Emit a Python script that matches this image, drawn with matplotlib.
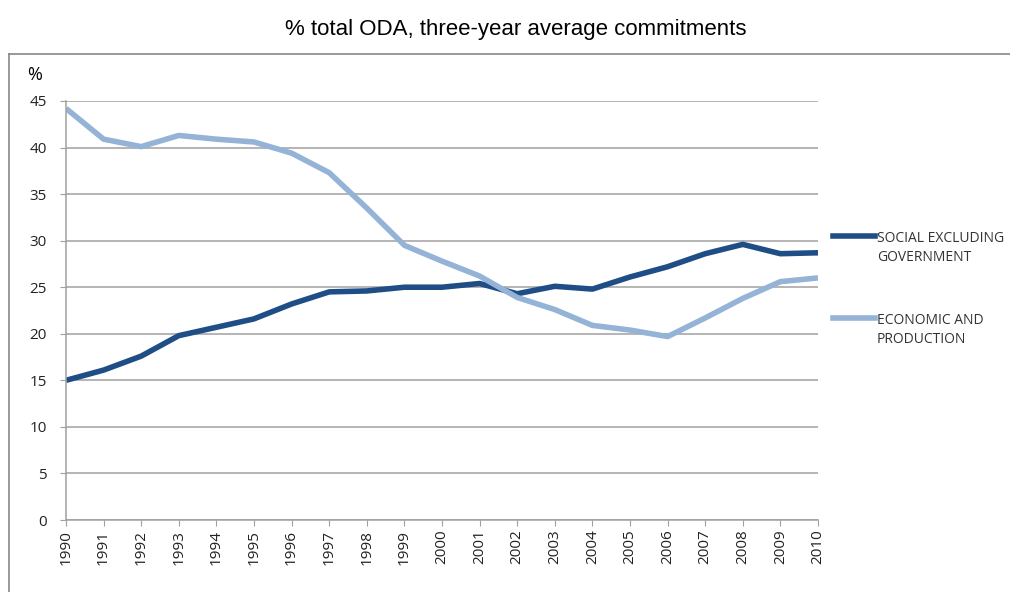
import matplotlib.pyplot as plt
from matplotlib.lines import Line2D

years = list(range(1990, 2011))
social = [15.0, 16.1, 17.6, 19.8, 20.7, 21.6, 23.2, 24.5, 24.6, 25.0, 25.0,
          25.4, 24.3, 25.1, 24.8, 26.1, 27.2, 28.6, 29.6, 28.6, 28.7]
economic = [44.2, 40.9, 40.1, 41.3, 40.9, 40.6, 39.4, 37.3, 33.5, 29.5, 27.8,
            26.2, 23.9, 22.6, 20.9, 20.4, 19.7, 21.7, 23.8, 25.6, 26.0]
yticks = list(range(0, 50, 5))
labels = ["SOCIAL EXCLUDING\nGOVERNMENT", "ECONOMIC AND\nPRODUCTION"]

dark = "#1f4e86"
light = "#95b3d7"

W, H = 1010, 592
fig = plt.figure(figsize=(W / 100, H / 100), dpi=100)
ax = fig.add_axes([66 / W, 1 - 520 / H, (818 - 66) / W, (520 - 101) / H])

ax.plot(years, social, color=dark, lw=4.0, solid_capstyle="butt")
ax.plot(years, economic, color=light, lw=4.0, solid_capstyle="butt")

ax.set_xlim(1990, 2010)
ax.set_ylim(0, 45)
ax.set_xticks(years)
ax.set_xticklabels([str(y) for y in years], rotation=90, fontsize=11,
                   family="Open Sans", color="#222222")
ax.set_yticks(yticks)
ax.set_yticklabels([str(v) for v in yticks], fontsize=11,
                   family="Open Sans", color="#222222")
ax.grid(axis="y", color="#a0a0a0", lw=1.1)
ax.set_axisbelow(True)
for s in ["top", "right"]:
    ax.spines[s].set_visible(False)
for s in ["left", "bottom"]:
    ax.spines[s].set_color("#a0a0a0")
    ax.spines[s].set_linewidth(1.1)
ax.tick_params(axis="both", direction="out", length=4, color="#a0a0a0", pad=3)
ax.tick_params(axis="y", pad=10)

fig.text(27 / W, 1 - 75 / H, "%", fontsize=13, family="Open Sans",
         ha="left", va="center")

# legend: handle lines up with first text line, as in the original
for lab, col, yl in zip(labels, [dark, light], [236, 318]):
    fig.add_artist(Line2D([833 / W, 875 / W], [1 - yl / H, 1 - yl / H],
                          transform=fig.transFigure, color=col, lw=4.0))
    fig.text(877 / W, 1 - (yl - 5) / H, lab, fontsize=10, family="Open Sans",
             color="#333333", ha="left", va="top", linespacing=1.4)

fig.text(516 / W, 1 - 29 / H, "% total ODA, three-year average commitments",
         ha="center", va="center", fontsize=16, family="Liberation Sans")

# outer frame (top and left edges)
fig.add_artist(Line2D([9 / W, 1.0], [1 - 54 / H, 1 - 54 / H],
                      transform=fig.transFigure, color="#888888", lw=1.2))
fig.add_artist(Line2D([9 / W, 9 / W], [0, 1 - 54 / H],
                      transform=fig.transFigure, color="#888888", lw=1.2))

fig.savefig("out.png", dpi=100)
